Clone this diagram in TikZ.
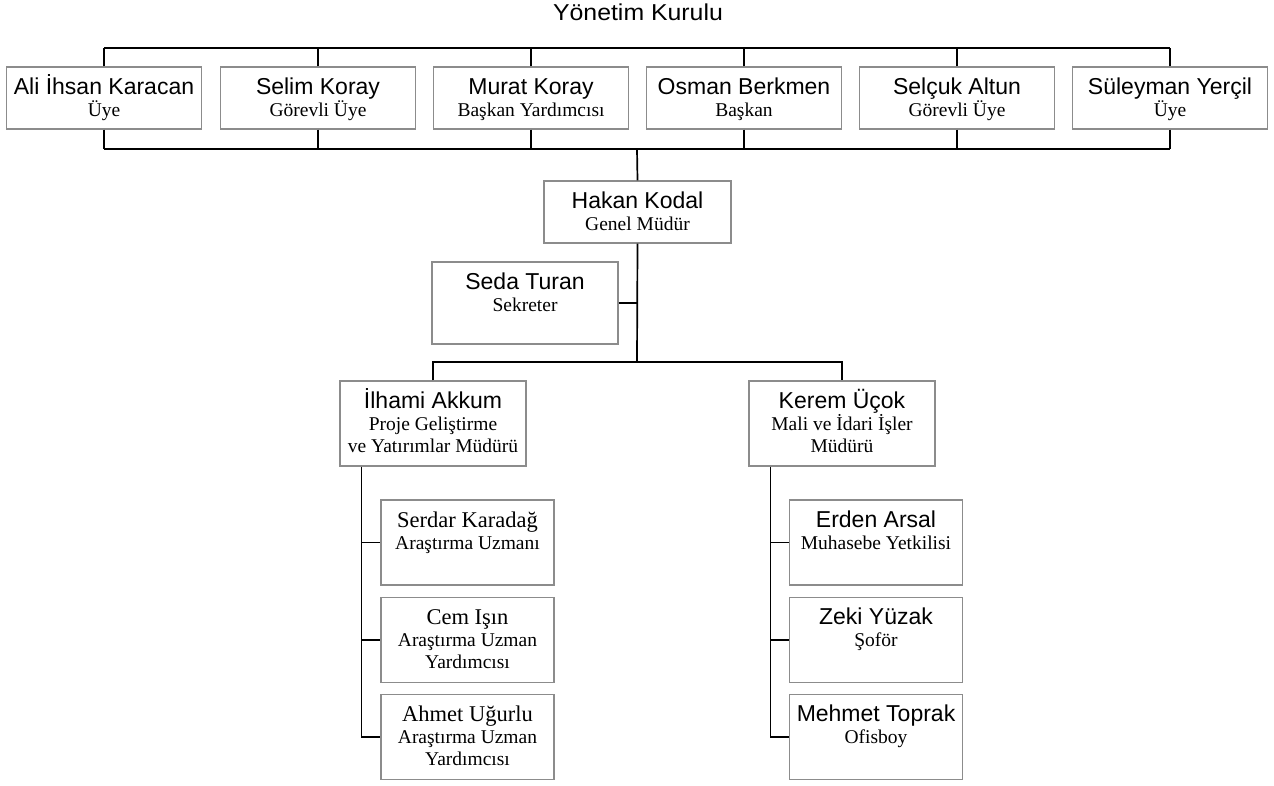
\documentclass[tikz,border=0pt]{standalone}
\usepackage{fontspec}
\setmainfont{Liberation Serif}
\setsansfont{Liberation Sans}
\tikzset{
	unit/.style={draw=black!45, line width=1.1pt, inner sep=0pt},
	board/.style={unit, minimum width=195, minimum height=62},
	staff/.style={unit, minimum width=173, minimum height=85},
	txt/.style={anchor=north, align=center, inner sep=0pt, yshift=-6.5pt, font=\fontsize{19.5}{22}\selectfont},
	link/.style={line width=1.7pt}
}
\newcommand{\nm}[1]{{\fontsize{23}{22}\sffamily\rule{0pt}{21pt}#1}}
\newcommand{\nmr}[1]{{\fontsize{22.5}{22}\selectfont\rule{0pt}{21pt}#1}}

\begin{document}
\begin{tikzpicture}[x=1pt,y=-1pt]
\useasboundingbox (0,0) rectangle (1274,785);

%board
\node[anchor=base, inner sep=0pt, xscale=1.08, font=\fontsize{23}{22}\sffamily] (kurul) at (638,20) {Yönetim Kurulu};
\coordinate (topbar) at (637,48);
\coordinate (lowbar) at (637,149);
\foreach \id/\cx/\who/\job in {ali/104/{Ali İhsan Karacan}/Üye,
	selim/318/{Selim Koray}/{Görevli Üye},
	murat/531/{Murat Koray}/{Başkan Yardımcısı},
	osman/744/{Osman Berkmen}/Başkan,
	selcuk/957/{Selçuk Altun}/{Görevli Üye},
	suleyman/1170/{Süleyman Yerçil}/Üye}
{
	\node[board] (\id) at (\cx,98) {};
	\node[txt] (\id-t) at (\id.north) {\nm{\who}\\\job};
	\draw[link] (\id.north) -- (\id.north |- topbar);
	\draw[link] (\id.south) -- (\id.south |- lowbar);
}
\draw[link] (ali.north |- topbar) -- (suleyman.north |- topbar);
\draw[link] (ali.south |- lowbar) -- (suleyman.south |- lowbar);

% general manager
\node[unit, minimum width=187, minimum height=62] (hakan) at (637.5,212) {};
\node[txt] (hakan-t) at (hakan.north) {\nm{Hakan Kodal}\\Genel Müdür};
\draw[link] (lowbar) -- (hakan.north);

% secretary
\node[unit, minimum width=186, minimum height=82] (seda) at (525,303) {};
\node[txt] (seda-t) at (seda.north) {\nm{Seda Turan}\\Sekreter};
\draw[link] (seda.east) -- (seda.east -| hakan.south);

% managers
\node[unit, minimum width=186, minimum height=85] (ilhami) at (433,423.5) {};
\node[txt] (ilhami-t) at (ilhami.north) {\nm{İlhami Akkum}\\Proje Geliştirme\\ve Yatırımlar Müdürü};
\node[unit, minimum width=186, minimum height=85] (kerem) at (842,423.5) {};
\node[txt] (kerem-t) at (kerem.north) {\nm{Kerem Üçok}\\Mali ve İdari İşler\\Müdürü};
\coordinate (split) at (637,362);
\draw[link] (hakan.south) -- (split);
\draw[link] (ilhami.north) |- (split) -| (kerem.north);

% project staff
\node[staff] (serdar) at (467.5,542.5) {};
\node[txt] (serdar-t) at (serdar.north) {\nmr{Serdar Karadağ}\\Araştırma Uzmanı};
\node[staff] (cem) at (467.5,640) {};
\node[txt] (cem-t) at (cem.north) {\nmr{Cem Işın}\\Araştırma Uzman\\Yardımcısı};
\node[staff] (ahmet) at (467.5,737) {};
\node[txt] (ahmet-t) at (ahmet.north) {\nmr{Ahmet Uğurlu}\\Araştırma Uzman\\Yardımcısı};
\draw[link] ([xshift=22pt]ilhami.south west) coordinate (lspine) |- (ahmet.west);
\draw[link] (lspine |- serdar.west) -- (serdar.west);
\draw[link] (lspine |- cem.west) -- (cem.west);

% admin staff
\node[staff] (erden) at (876,542.5) {};
\node[txt] (erden-t) at (erden.north) {\nm{Erden Arsal}\\Muhasebe Yetkilisi};
\node[staff] (zeki) at (876,640) {};
\node[txt] (zeki-t) at (zeki.north) {\nm{Zeki Yüzak}\\Şoför};
\node[staff] (mehmet) at (876,737) {};
\node[txt] (mehmet-t) at (mehmet.north) {\nm{Mehmet Toprak}\\Ofisboy};
\draw[link] ([xshift=22pt]kerem.south west) coordinate (rspine) |- (mehmet.west);
\draw[link] (rspine |- erden.west) -- (erden.west);
\draw[link] (rspine |- zeki.west) -- (zeki.west);

\end{tikzpicture}
\end{document}
